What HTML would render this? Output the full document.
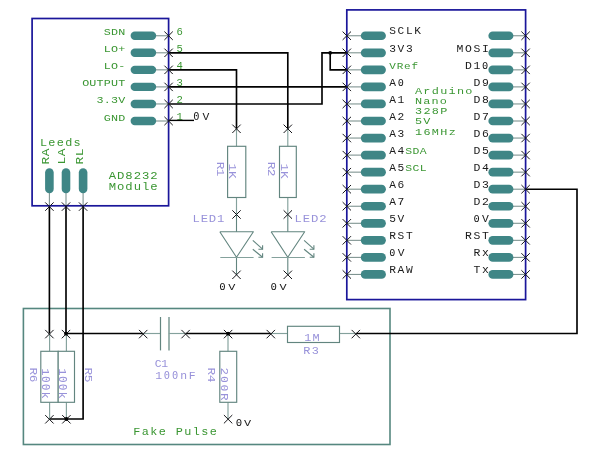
<!DOCTYPE html>
<html lang="en">
<head>
<meta charset="utf-8">
<title>AD8232 Module to Arduino Nano schematic</title>
<style>
html,body{margin:0;padding:0;background:#ffffff;}
body{width:600px;height:464px;overflow:hidden;}
svg{display:block;}
svg text{font-family:"Liberation Mono","DejaVu Sans Mono",monospace;font-weight:400;white-space:pre;}
svg text .z{font-family:"DejaVu Sans Mono","Liberation Mono",monospace;}
</style>
</head>
<body>
<svg width="600" height="464" viewBox="0 0 600 464">
<rect x="0" y="0" width="600" height="464" fill="#ffffff"/>
<g opacity="0.999">
<line x1="155.00" y1="35.75" x2="168.60" y2="35.75" stroke="#7f9491" stroke-width="1.1" stroke-linecap="butt"/>
<rect x="130.60" y="31.55" width="25.60" height="8.40" rx="4.20" fill="#3f8686"/>
<text transform="translate(103.84 35.25) scale(1.289 1)" font-size="9.10" letter-spacing="0.15" fill="#3a9632">SDN</text>
<text transform="translate(176.42 35.05) scale(0.999 1)" font-size="10.62" letter-spacing="0.00" fill="#3a9632">6</text>
<line x1="155.00" y1="52.80" x2="168.60" y2="52.80" stroke="#7f9491" stroke-width="1.1" stroke-linecap="butt"/>
<rect x="130.60" y="48.60" width="25.60" height="8.40" rx="4.20" fill="#3f8686"/>
<text transform="translate(103.84 52.30) scale(1.289 1)" font-size="9.10" letter-spacing="0.15" fill="#3a9632">LO+</text>
<text transform="translate(176.42 52.10) scale(0.999 1)" font-size="10.62" letter-spacing="0.00" fill="#3a9632">5</text>
<line x1="155.00" y1="69.85" x2="168.60" y2="69.85" stroke="#7f9491" stroke-width="1.1" stroke-linecap="butt"/>
<rect x="130.60" y="65.65" width="25.60" height="8.40" rx="4.20" fill="#3f8686"/>
<text transform="translate(103.84 69.35) scale(1.289 1)" font-size="9.10" letter-spacing="0.15" fill="#3a9632">LO-</text>
<text transform="translate(176.42 69.15) scale(0.999 1)" font-size="10.62" letter-spacing="0.00" fill="#3a9632">4</text>
<line x1="155.00" y1="86.90" x2="168.60" y2="86.90" stroke="#7f9491" stroke-width="1.1" stroke-linecap="butt"/>
<rect x="130.60" y="82.70" width="25.60" height="8.40" rx="4.20" fill="#3f8686"/>
<text transform="translate(82.15 86.40) scale(1.289 1)" font-size="9.10" letter-spacing="0.15" fill="#3a9632">OUTPUT</text>
<text transform="translate(176.42 86.20) scale(0.999 1)" font-size="10.62" letter-spacing="0.00" fill="#3a9632">3</text>
<line x1="155.00" y1="103.95" x2="168.60" y2="103.95" stroke="#7f9491" stroke-width="1.1" stroke-linecap="butt"/>
<rect x="130.60" y="99.75" width="25.60" height="8.40" rx="4.20" fill="#3f8686"/>
<text transform="translate(96.61 103.45) scale(1.289 1)" font-size="9.10" letter-spacing="0.15" fill="#3a9632">3.3V</text>
<text transform="translate(176.42 103.25) scale(0.999 1)" font-size="10.62" letter-spacing="0.00" fill="#3a9632">2</text>
<line x1="155.00" y1="121.00" x2="168.60" y2="121.00" stroke="#7f9491" stroke-width="1.1" stroke-linecap="butt"/>
<rect x="130.60" y="116.80" width="25.60" height="8.40" rx="4.20" fill="#3f8686"/>
<text transform="translate(103.84 120.50) scale(1.289 1)" font-size="9.10" letter-spacing="0.15" fill="#3a9632">GND</text>
<text transform="translate(176.42 120.30) scale(0.999 1)" font-size="10.62" letter-spacing="0.00" fill="#3a9632">1</text>
<line x1="49.40" y1="192.00" x2="49.40" y2="205.80" stroke="#7f9491" stroke-width="1.1" stroke-linecap="butt"/>
<rect x="45.10" y="168.20" width="8.60" height="25.00" rx="4.30" fill="#3f8686"/>
<text transform="translate(45.20 163.90) rotate(-90) translate(-0.71 3.60) scale(1.177 1)" font-size="10.93" letter-spacing="0.58" fill="#3a9632">RA</text>
<line x1="66.00" y1="192.00" x2="66.00" y2="205.80" stroke="#7f9491" stroke-width="1.1" stroke-linecap="butt"/>
<rect x="61.70" y="168.20" width="8.60" height="25.00" rx="4.30" fill="#3f8686"/>
<text transform="translate(61.80 163.90) rotate(-90) translate(-0.71 3.60) scale(1.177 1)" font-size="10.93" letter-spacing="0.58" fill="#3a9632">LA</text>
<line x1="83.10" y1="192.00" x2="83.10" y2="205.80" stroke="#7f9491" stroke-width="1.1" stroke-linecap="butt"/>
<rect x="78.80" y="168.20" width="8.60" height="25.00" rx="4.30" fill="#3f8686"/>
<text transform="translate(78.90 163.90) rotate(-90) translate(-0.71 3.60) scale(1.177 1)" font-size="10.93" letter-spacing="0.58" fill="#3a9632">RL</text>
<text transform="translate(39.95 145.80) scale(1.147 1)" font-size="10.32" letter-spacing="1.13" fill="#3a9632">Leeds</text>
<text transform="translate(108.63 179.10) scale(1.187 1)" font-size="10.32" letter-spacing="0.84" fill="#3a9632">AD8232</text>
<text transform="translate(108.63 189.60) scale(1.187 1)" font-size="10.32" letter-spacing="0.84" fill="#3a9632">Module</text>
<line x1="346.80" y1="35.75" x2="362.00" y2="35.75" stroke="#7f9491" stroke-width="1.1" stroke-linecap="butt"/>
<line x1="512.00" y1="35.75" x2="525.60" y2="35.75" stroke="#7f9491" stroke-width="1.1" stroke-linecap="butt"/>
<rect x="360.80" y="31.40" width="25.10" height="8.70" rx="4.35" fill="#3f8686"/>
<rect x="488.40" y="31.40" width="25.00" height="8.70" rx="4.35" fill="#3f8686"/>
<text transform="translate(389.28 34.45) scale(1.088 1)" font-size="10.32" letter-spacing="1.48" fill="#1a1a1a">SCLK</text>
<line x1="346.80" y1="52.80" x2="362.00" y2="52.80" stroke="#7f9491" stroke-width="1.1" stroke-linecap="butt"/>
<line x1="512.00" y1="52.80" x2="525.60" y2="52.80" stroke="#7f9491" stroke-width="1.1" stroke-linecap="butt"/>
<rect x="360.80" y="48.45" width="25.10" height="8.70" rx="4.35" fill="#3f8686"/>
<rect x="488.40" y="48.45" width="25.00" height="8.70" rx="4.35" fill="#3f8686"/>
<text transform="translate(389.28 51.50) scale(1.088 1)" font-size="10.32" letter-spacing="1.48" fill="#1a1a1a">3V3</text>
<text transform="translate(456.62 51.50) scale(1.108 1)" font-size="10.32" letter-spacing="1.44" fill="#1a1a1a">MOSI</text>
<line x1="346.80" y1="69.85" x2="362.00" y2="69.85" stroke="#7f9491" stroke-width="1.1" stroke-linecap="butt"/>
<line x1="512.00" y1="69.85" x2="525.60" y2="69.85" stroke="#7f9491" stroke-width="1.1" stroke-linecap="butt"/>
<rect x="360.80" y="65.50" width="25.10" height="8.70" rx="4.35" fill="#3f8686"/>
<rect x="488.40" y="65.50" width="25.00" height="8.70" rx="4.35" fill="#3f8686"/>
<text transform="translate(389.19 68.55) scale(1.117 1)" font-size="9.86" letter-spacing="0.76" fill="#3a9632">VRef</text>
<text transform="translate(465.07 68.55) scale(1.108 1)" font-size="10.32" letter-spacing="1.44" fill="#1a1a1a">D1<tspan class="z" font-size="9.33">0</tspan></text>
<line x1="346.80" y1="86.90" x2="362.00" y2="86.90" stroke="#7f9491" stroke-width="1.1" stroke-linecap="butt"/>
<line x1="512.00" y1="86.90" x2="525.60" y2="86.90" stroke="#7f9491" stroke-width="1.1" stroke-linecap="butt"/>
<rect x="360.80" y="82.55" width="25.10" height="8.70" rx="4.35" fill="#3f8686"/>
<rect x="488.40" y="82.55" width="25.00" height="8.70" rx="4.35" fill="#3f8686"/>
<text transform="translate(389.28 85.60) scale(1.088 1)" font-size="10.32" letter-spacing="1.48" fill="#1a1a1a">A<tspan class="z" font-size="9.33">0</tspan></text>
<text transform="translate(473.52 85.60) scale(1.108 1)" font-size="10.32" letter-spacing="1.44" fill="#1a1a1a">D9</text>
<line x1="346.80" y1="103.95" x2="362.00" y2="103.95" stroke="#7f9491" stroke-width="1.1" stroke-linecap="butt"/>
<line x1="512.00" y1="103.95" x2="525.60" y2="103.95" stroke="#7f9491" stroke-width="1.1" stroke-linecap="butt"/>
<rect x="360.80" y="99.60" width="25.10" height="8.70" rx="4.35" fill="#3f8686"/>
<rect x="488.40" y="99.60" width="25.00" height="8.70" rx="4.35" fill="#3f8686"/>
<text transform="translate(389.28 102.65) scale(1.088 1)" font-size="10.32" letter-spacing="1.48" fill="#1a1a1a">A1</text>
<text transform="translate(473.52 102.65) scale(1.108 1)" font-size="10.32" letter-spacing="1.44" fill="#1a1a1a">D8</text>
<line x1="346.80" y1="121.00" x2="362.00" y2="121.00" stroke="#7f9491" stroke-width="1.1" stroke-linecap="butt"/>
<line x1="512.00" y1="121.00" x2="525.60" y2="121.00" stroke="#7f9491" stroke-width="1.1" stroke-linecap="butt"/>
<rect x="360.80" y="116.65" width="25.10" height="8.70" rx="4.35" fill="#3f8686"/>
<rect x="488.40" y="116.65" width="25.00" height="8.70" rx="4.35" fill="#3f8686"/>
<text transform="translate(389.28 119.70) scale(1.088 1)" font-size="10.32" letter-spacing="1.48" fill="#1a1a1a">A2</text>
<text transform="translate(473.52 119.70) scale(1.108 1)" font-size="10.32" letter-spacing="1.44" fill="#1a1a1a">D7</text>
<line x1="346.80" y1="138.05" x2="362.00" y2="138.05" stroke="#7f9491" stroke-width="1.1" stroke-linecap="butt"/>
<line x1="512.00" y1="138.05" x2="525.60" y2="138.05" stroke="#7f9491" stroke-width="1.1" stroke-linecap="butt"/>
<rect x="360.80" y="133.70" width="25.10" height="8.70" rx="4.35" fill="#3f8686"/>
<rect x="488.40" y="133.70" width="25.00" height="8.70" rx="4.35" fill="#3f8686"/>
<text transform="translate(389.28 136.75) scale(1.088 1)" font-size="10.32" letter-spacing="1.48" fill="#1a1a1a">A3</text>
<text transform="translate(473.52 136.75) scale(1.108 1)" font-size="10.32" letter-spacing="1.44" fill="#1a1a1a">D6</text>
<line x1="346.80" y1="155.10" x2="362.00" y2="155.10" stroke="#7f9491" stroke-width="1.1" stroke-linecap="butt"/>
<line x1="512.00" y1="155.10" x2="525.60" y2="155.10" stroke="#7f9491" stroke-width="1.1" stroke-linecap="butt"/>
<rect x="360.80" y="150.75" width="25.10" height="8.70" rx="4.35" fill="#3f8686"/>
<rect x="488.40" y="150.75" width="25.00" height="8.70" rx="4.35" fill="#3f8686"/>
<text transform="translate(389.28 153.80) scale(1.088 1)" font-size="10.32" letter-spacing="1.48" fill="#1a1a1a">A4</text>
<text transform="translate(473.52 153.80) scale(1.108 1)" font-size="10.32" letter-spacing="1.44" fill="#1a1a1a">D5</text>
<line x1="346.80" y1="172.15" x2="362.00" y2="172.15" stroke="#7f9491" stroke-width="1.1" stroke-linecap="butt"/>
<line x1="512.00" y1="172.15" x2="525.60" y2="172.15" stroke="#7f9491" stroke-width="1.1" stroke-linecap="butt"/>
<rect x="360.80" y="167.80" width="25.10" height="8.70" rx="4.35" fill="#3f8686"/>
<rect x="488.40" y="167.80" width="25.00" height="8.70" rx="4.35" fill="#3f8686"/>
<text transform="translate(389.28 170.85) scale(1.088 1)" font-size="10.32" letter-spacing="1.48" fill="#1a1a1a">A5</text>
<text transform="translate(473.52 170.85) scale(1.108 1)" font-size="10.32" letter-spacing="1.44" fill="#1a1a1a">D4</text>
<line x1="346.80" y1="189.20" x2="362.00" y2="189.20" stroke="#7f9491" stroke-width="1.1" stroke-linecap="butt"/>
<line x1="512.00" y1="189.20" x2="525.60" y2="189.20" stroke="#7f9491" stroke-width="1.1" stroke-linecap="butt"/>
<rect x="360.80" y="184.85" width="25.10" height="8.70" rx="4.35" fill="#3f8686"/>
<rect x="488.40" y="184.85" width="25.00" height="8.70" rx="4.35" fill="#3f8686"/>
<text transform="translate(389.28 187.90) scale(1.088 1)" font-size="10.32" letter-spacing="1.48" fill="#1a1a1a">A6</text>
<text transform="translate(473.52 187.90) scale(1.108 1)" font-size="10.32" letter-spacing="1.44" fill="#1a1a1a">D3</text>
<line x1="346.80" y1="206.25" x2="362.00" y2="206.25" stroke="#7f9491" stroke-width="1.1" stroke-linecap="butt"/>
<line x1="512.00" y1="206.25" x2="525.60" y2="206.25" stroke="#7f9491" stroke-width="1.1" stroke-linecap="butt"/>
<rect x="360.80" y="201.90" width="25.10" height="8.70" rx="4.35" fill="#3f8686"/>
<rect x="488.40" y="201.90" width="25.00" height="8.70" rx="4.35" fill="#3f8686"/>
<text transform="translate(389.28 204.95) scale(1.088 1)" font-size="10.32" letter-spacing="1.48" fill="#1a1a1a">A7</text>
<text transform="translate(473.52 204.95) scale(1.108 1)" font-size="10.32" letter-spacing="1.44" fill="#1a1a1a">D2</text>
<line x1="346.80" y1="223.30" x2="362.00" y2="223.30" stroke="#7f9491" stroke-width="1.1" stroke-linecap="butt"/>
<line x1="512.00" y1="223.30" x2="525.60" y2="223.30" stroke="#7f9491" stroke-width="1.1" stroke-linecap="butt"/>
<rect x="360.80" y="218.95" width="25.10" height="8.70" rx="4.35" fill="#3f8686"/>
<rect x="488.40" y="218.95" width="25.00" height="8.70" rx="4.35" fill="#3f8686"/>
<text transform="translate(389.28 222.00) scale(1.088 1)" font-size="10.32" letter-spacing="1.48" fill="#1a1a1a">5V</text>
<text transform="translate(473.52 222.00) scale(1.108 1)" font-size="10.32" letter-spacing="1.44" fill="#1a1a1a"><tspan class="z" font-size="9.33">0</tspan><tspan dx="0.58">V</tspan></text>
<line x1="346.80" y1="240.35" x2="362.00" y2="240.35" stroke="#7f9491" stroke-width="1.1" stroke-linecap="butt"/>
<line x1="512.00" y1="240.35" x2="525.60" y2="240.35" stroke="#7f9491" stroke-width="1.1" stroke-linecap="butt"/>
<rect x="360.80" y="236.00" width="25.10" height="8.70" rx="4.35" fill="#3f8686"/>
<rect x="488.40" y="236.00" width="25.00" height="8.70" rx="4.35" fill="#3f8686"/>
<text transform="translate(389.28 239.05) scale(1.088 1)" font-size="10.32" letter-spacing="1.48" fill="#1a1a1a">RST</text>
<text transform="translate(465.07 239.05) scale(1.108 1)" font-size="10.32" letter-spacing="1.44" fill="#1a1a1a">RST</text>
<line x1="346.80" y1="257.40" x2="362.00" y2="257.40" stroke="#7f9491" stroke-width="1.1" stroke-linecap="butt"/>
<line x1="512.00" y1="257.40" x2="525.60" y2="257.40" stroke="#7f9491" stroke-width="1.1" stroke-linecap="butt"/>
<rect x="360.80" y="253.05" width="25.10" height="8.70" rx="4.35" fill="#3f8686"/>
<rect x="488.40" y="253.05" width="25.00" height="8.70" rx="4.35" fill="#3f8686"/>
<text transform="translate(389.28 256.10) scale(1.088 1)" font-size="10.32" letter-spacing="1.48" fill="#1a1a1a"><tspan class="z" font-size="9.33">0</tspan><tspan dx="0.58">V</tspan></text>
<text transform="translate(473.52 256.10) scale(1.108 1)" font-size="10.32" letter-spacing="1.44" fill="#1a1a1a">Rx</text>
<line x1="346.80" y1="274.45" x2="362.00" y2="274.45" stroke="#7f9491" stroke-width="1.1" stroke-linecap="butt"/>
<line x1="512.00" y1="274.45" x2="525.60" y2="274.45" stroke="#7f9491" stroke-width="1.1" stroke-linecap="butt"/>
<rect x="360.80" y="270.10" width="25.10" height="8.70" rx="4.35" fill="#3f8686"/>
<rect x="488.40" y="270.10" width="25.00" height="8.70" rx="4.35" fill="#3f8686"/>
<text transform="translate(389.28 273.15) scale(1.088 1)" font-size="10.32" letter-spacing="1.48" fill="#1a1a1a">RAW</text>
<text transform="translate(473.52 273.15) scale(1.108 1)" font-size="10.32" letter-spacing="1.44" fill="#1a1a1a">Tx</text>
<text transform="translate(405.37 154.10) scale(1.321 1)" font-size="8.65" letter-spacing="0.26" fill="#3a9632">SDA</text>
<text transform="translate(405.37 171.15) scale(1.321 1)" font-size="8.65" letter-spacing="0.26" fill="#3a9632">SCL</text>
<text transform="translate(414.95 94.00) scale(1.300 1)" font-size="9.10" letter-spacing="1.00" fill="#3a9632">Arduino</text>
<text transform="translate(414.95 104.15) scale(1.300 1)" font-size="9.10" letter-spacing="0.90" fill="#3a9632">Nano</text>
<text transform="translate(414.95 114.30) scale(1.300 1)" font-size="9.10" letter-spacing="1.05" fill="#3a9632">328P</text>
<text transform="translate(414.95 124.45) scale(1.300 1)" font-size="9.10" letter-spacing="0.84" fill="#3a9632">5V</text>
<text transform="translate(414.95 134.60) scale(1.300 1)" font-size="9.10" letter-spacing="1.04" fill="#3a9632">16MHz</text>
<rect x="23.40" y="308.50" width="366.60" height="136.00" fill="none" stroke="#55877f" stroke-width="1.6"/>
<polyline points="168.60,52.80 287.80,52.80 287.80,128.80" fill="none" stroke="#000000" stroke-width="1.65" stroke-linejoin="miter"/>
<polyline points="168.60,69.85 236.50,69.85 236.50,128.80" fill="none" stroke="#000000" stroke-width="1.65" stroke-linejoin="miter"/>
<polyline points="168.60,86.90 346.80,86.90" fill="none" stroke="#000000" stroke-width="1.65" stroke-linejoin="miter"/>
<polyline points="168.60,103.95 322.00,103.95 322.00,52.80 346.80,52.80" fill="none" stroke="#000000" stroke-width="1.65" stroke-linejoin="miter"/>
<polyline points="330.20,52.80 330.20,69.85 346.80,69.85" fill="none" stroke="#000000" stroke-width="1.65" stroke-linejoin="miter"/>
<circle cx="330.20" cy="52.80" r="1.9" fill="#000000"/>
<line x1="168.60" y1="120.40" x2="194.00" y2="120.40" stroke="#000000" stroke-width="1.4" stroke-linecap="butt"/>
<text transform="translate(193.17 120.00) scale(1.076 1)" font-size="10.62" letter-spacing="2.18" fill="#1a1a1a"><tspan class="z" font-size="9.60">0</tspan><tspan dx="0.59">V</tspan></text>
<polyline points="49.40,205.80 49.40,333.50" fill="none" stroke="#000000" stroke-width="1.65" stroke-linejoin="miter"/>
<polyline points="66.00,205.80 66.00,333.50 143.20,333.50" fill="none" stroke="#000000" stroke-width="1.65" stroke-linejoin="miter"/>
<polyline points="83.10,205.80 83.10,419.00 49.40,419.00" fill="none" stroke="#000000" stroke-width="1.65" stroke-linejoin="miter"/>
<line x1="185.60" y1="333.50" x2="270.80" y2="333.50" stroke="#000000" stroke-width="1.65" stroke-linecap="butt"/>
<polyline points="355.80,333.50 577.00,333.50 577.00,189.20 525.60,189.20" fill="none" stroke="#000000" stroke-width="1.65" stroke-linejoin="miter"/>
<text transform="translate(133.15 435.40) scale(1.114 1)" font-size="10.62" letter-spacing="1.26" fill="#3a9632">Fake Pulse</text>
<line x1="236.50" y1="128.80" x2="236.50" y2="146.30" stroke="#84a19c" stroke-width="1.15" stroke-linecap="butt"/>
<line x1="236.50" y1="197.50" x2="236.50" y2="214.50" stroke="#84a19c" stroke-width="1.15" stroke-linecap="butt"/>
<rect x="227.60" y="146.30" width="18.20" height="51.20" fill="#ffffff" stroke="#62857f" stroke-width="1.15"/>
<line x1="287.80" y1="128.80" x2="287.80" y2="146.30" stroke="#84a19c" stroke-width="1.15" stroke-linecap="butt"/>
<line x1="287.80" y1="197.50" x2="287.80" y2="214.50" stroke="#84a19c" stroke-width="1.15" stroke-linecap="butt"/>
<rect x="279.50" y="146.30" width="16.80" height="51.20" fill="#ffffff" stroke="#62857f" stroke-width="1.15"/>
<text transform="translate(233.00 164.20) rotate(90) translate(-0.71 3.60) scale(1.177 1)" font-size="10.93" letter-spacing="-0.18" fill="#9892da">1K</text>
<text transform="translate(220.20 162.50) rotate(90) translate(-0.71 3.40) scale(1.246 1)" font-size="10.32" letter-spacing="-0.57" fill="#9892da">R1</text>
<text transform="translate(284.30 164.20) rotate(90) translate(-0.71 3.60) scale(1.177 1)" font-size="10.93" letter-spacing="-0.18" fill="#9892da">1K</text>
<text transform="translate(271.50 162.50) rotate(90) translate(-0.71 3.40) scale(1.246 1)" font-size="10.32" letter-spacing="-0.57" fill="#9892da">R2</text>
<line x1="49.60" y1="333.50" x2="49.60" y2="351.30" stroke="#84a19c" stroke-width="1.15" stroke-linecap="butt"/>
<line x1="49.60" y1="402.30" x2="49.60" y2="419.00" stroke="#84a19c" stroke-width="1.15" stroke-linecap="butt"/>
<rect x="40.80" y="351.30" width="17.40" height="51.00" fill="#ffffff" stroke="#62857f" stroke-width="1.15"/>
<line x1="66.40" y1="333.50" x2="66.40" y2="351.30" stroke="#84a19c" stroke-width="1.15" stroke-linecap="butt"/>
<line x1="66.40" y1="402.30" x2="66.40" y2="419.00" stroke="#84a19c" stroke-width="1.15" stroke-linecap="butt"/>
<rect x="58.20" y="351.30" width="16.30" height="51.00" fill="#ffffff" stroke="#62857f" stroke-width="1.15"/>
<text transform="translate(45.30 368.80) rotate(90) translate(-0.67 3.50) scale(1.153 1)" font-size="10.62" letter-spacing="0.39" fill="#9892da">1<tspan class="z" font-size="9.60">0</tspan><tspan class="z" font-size="9.60" dx="0.59">0</tspan><tspan dx="0.59">k</tspan></text>
<text transform="translate(62.10 368.80) rotate(90) translate(-0.67 3.50) scale(1.153 1)" font-size="10.62" letter-spacing="0.39" fill="#9892da">1<tspan class="z" font-size="9.60">0</tspan><tspan class="z" font-size="9.60" dx="0.59">0</tspan><tspan dx="0.59">k</tspan></text>
<text transform="translate(33.00 368.10) rotate(90) translate(-0.71 3.50) scale(1.210 1)" font-size="10.62" letter-spacing="-0.18" fill="#9892da">R6</text>
<text transform="translate(88.40 368.10) rotate(90) translate(-0.71 3.50) scale(1.210 1)" font-size="10.62" letter-spacing="-0.18" fill="#9892da">R5</text>
<line x1="228.00" y1="333.50" x2="228.00" y2="351.30" stroke="#84a19c" stroke-width="1.15" stroke-linecap="butt"/>
<line x1="228.00" y1="402.30" x2="228.00" y2="419.20" stroke="#84a19c" stroke-width="1.15" stroke-linecap="butt"/>
<rect x="219.80" y="351.30" width="16.90" height="51.00" fill="#ffffff" stroke="#62857f" stroke-width="1.15"/>
<text transform="translate(224.60 368.10) rotate(90) translate(-0.70 3.50) scale(1.191 1)" font-size="10.62" letter-spacing="0.82" fill="#9892da">2<tspan class="z" font-size="9.60">0</tspan><tspan class="z" font-size="9.60" dx="0.59">0</tspan><tspan dx="0.59">R</tspan></text>
<text transform="translate(211.60 368.10) rotate(90) translate(-0.71 3.50) scale(1.210 1)" font-size="10.62" letter-spacing="-0.18" fill="#9892da">R4</text>
<text transform="translate(235.75 426.30) scale(1.219 1)" font-size="9.71" letter-spacing="0.90" fill="#1a1a1a"><tspan class="z" font-size="8.78">0</tspan><tspan dx="0.54">V</tspan></text>
<line x1="270.80" y1="333.50" x2="287.50" y2="333.50" stroke="#84a19c" stroke-width="1.15" stroke-linecap="butt"/>
<line x1="339.50" y1="333.50" x2="355.80" y2="333.50" stroke="#84a19c" stroke-width="1.15" stroke-linecap="butt"/>
<rect x="287.50" y="326.30" width="52.00" height="16.20" fill="#ffffff" stroke="#62857f" stroke-width="1.15"/>
<text transform="translate(304.15 341.30) scale(1.083 1)" font-size="10.93" letter-spacing="1.20" fill="#9892da">1M</text>
<text transform="translate(303.35 354.30) scale(1.114 1)" font-size="10.62" letter-spacing="1.25" fill="#9892da">R3</text>
<line x1="143.20" y1="333.50" x2="160.50" y2="333.50" stroke="#84a19c" stroke-width="1.15" stroke-linecap="butt"/>
<line x1="168.80" y1="333.50" x2="185.60" y2="333.50" stroke="#84a19c" stroke-width="1.15" stroke-linecap="butt"/>
<line x1="160.50" y1="317.00" x2="160.50" y2="350.40" stroke="#62857f" stroke-width="1.2" stroke-linecap="butt"/>
<line x1="169.00" y1="317.00" x2="169.00" y2="350.40" stroke="#84a19c" stroke-width="1.6" stroke-linecap="butt"/>
<text transform="translate(154.67 367.00) scale(1.108 1)" font-size="10.32" letter-spacing="-0.14" fill="#9892da">C1</text>
<text transform="translate(155.27 379.40) scale(1.076 1)" font-size="10.62" letter-spacing="1.41" fill="#9892da">1<tspan class="z" font-size="9.60">0</tspan><tspan class="z" font-size="9.60" dx="0.59">0</tspan><tspan dx="0.59">n</tspan>F</text>
<line x1="236.50" y1="214.50" x2="236.50" y2="231.80" stroke="#62857f" stroke-width="1.1" stroke-linecap="butt"/>
<line x1="236.50" y1="257.30" x2="236.50" y2="274.80" stroke="#62857f" stroke-width="1.1" stroke-linecap="butt"/>
<polyline points="219.80,231.80 253.40,231.80 236.50,257.30 219.80,231.80" fill="none" stroke="#62857f" stroke-width="1.1" stroke-linejoin="round"/>
<line x1="220.30" y1="257.50" x2="253.60" y2="257.50" stroke="#84a19c" stroke-width="1.2" stroke-linecap="butt"/>
<line x1="252.80" y1="240.30" x2="262.60" y2="249.20" stroke="#62857f" stroke-width="1.1" stroke-linecap="butt"/>
<path d="M258.40 249.20L262.60 249.20L262.60 245.20" stroke="#62857f" stroke-width="1.1" fill="none"/>
<line x1="252.80" y1="249.20" x2="262.60" y2="257.20" stroke="#62857f" stroke-width="1.1" stroke-linecap="butt"/>
<path d="M258.40 257.20L262.60 257.20L262.60 253.20" stroke="#62857f" stroke-width="1.1" fill="none"/>
<text transform="translate(192.53 222.00) scale(1.121 1)" font-size="10.93" letter-spacing="0.70" fill="#9892da">LED1</text>
<text transform="translate(219.15 290.00) scale(1.219 1)" font-size="9.71" letter-spacing="1.64" fill="#1a1a1a"><tspan class="z" font-size="8.78">0</tspan><tspan dx="0.54">V</tspan></text>
<line x1="287.80" y1="214.50" x2="287.80" y2="231.80" stroke="#62857f" stroke-width="1.1" stroke-linecap="butt"/>
<line x1="287.80" y1="257.30" x2="287.80" y2="274.80" stroke="#62857f" stroke-width="1.1" stroke-linecap="butt"/>
<polyline points="271.10,231.80 304.70,231.80 287.80,257.30 271.10,231.80" fill="none" stroke="#62857f" stroke-width="1.1" stroke-linejoin="round"/>
<line x1="271.60" y1="257.50" x2="304.90" y2="257.50" stroke="#84a19c" stroke-width="1.2" stroke-linecap="butt"/>
<line x1="304.10" y1="240.30" x2="313.90" y2="249.20" stroke="#62857f" stroke-width="1.1" stroke-linecap="butt"/>
<path d="M309.70 249.20L313.90 249.20L313.90 245.20" stroke="#62857f" stroke-width="1.1" fill="none"/>
<line x1="304.10" y1="249.20" x2="313.90" y2="257.20" stroke="#62857f" stroke-width="1.1" stroke-linecap="butt"/>
<path d="M309.70 257.20L313.90 257.20L313.90 253.20" stroke="#62857f" stroke-width="1.1" fill="none"/>
<text transform="translate(294.53 222.00) scale(1.121 1)" font-size="10.93" letter-spacing="0.82" fill="#9892da">LED2</text>
<text transform="translate(270.45 290.00) scale(1.219 1)" font-size="9.71" letter-spacing="1.64" fill="#1a1a1a"><tspan class="z" font-size="8.78">0</tspan><tspan dx="0.54">V</tspan></text>
<rect x="32.10" y="18.50" width="136.50" height="187.30" fill="none" stroke="#1a169a" stroke-width="1.7"/>
<rect x="346.80" y="9.90" width="178.80" height="289.70" fill="none" stroke="#1a169a" stroke-width="1.7"/>
<path d="M164.40 31.55L172.80 39.95M164.40 39.95L172.80 31.55" stroke="#141418" stroke-width="1.0" fill="none"/>
<path d="M164.40 48.60L172.80 57.00M164.40 57.00L172.80 48.60" stroke="#141418" stroke-width="1.0" fill="none"/>
<path d="M164.40 65.65L172.80 74.05M164.40 74.05L172.80 65.65" stroke="#141418" stroke-width="1.0" fill="none"/>
<path d="M164.40 82.70L172.80 91.10M164.40 91.10L172.80 82.70" stroke="#141418" stroke-width="1.0" fill="none"/>
<path d="M164.40 99.75L172.80 108.15M164.40 108.15L172.80 99.75" stroke="#141418" stroke-width="1.0" fill="none"/>
<path d="M164.40 116.80L172.80 125.20M164.40 125.20L172.80 116.80" stroke="#141418" stroke-width="1.0" fill="none"/>
<path d="M45.20 202.40L53.60 210.80M45.20 210.80L53.60 202.40" stroke="#141418" stroke-width="1.0" fill="none"/>
<path d="M61.80 202.40L70.20 210.80M61.80 210.80L70.20 202.40" stroke="#141418" stroke-width="1.0" fill="none"/>
<path d="M78.90 202.40L87.30 210.80M78.90 210.80L87.30 202.40" stroke="#141418" stroke-width="1.0" fill="none"/>
<path d="M342.60 31.55L351.00 39.95M342.60 39.95L351.00 31.55" stroke="#141418" stroke-width="1.0" fill="none"/>
<path d="M521.40 31.55L529.80 39.95M521.40 39.95L529.80 31.55" stroke="#141418" stroke-width="1.0" fill="none"/>
<path d="M342.60 48.60L351.00 57.00M342.60 57.00L351.00 48.60" stroke="#141418" stroke-width="1.0" fill="none"/>
<path d="M521.40 48.60L529.80 57.00M521.40 57.00L529.80 48.60" stroke="#141418" stroke-width="1.0" fill="none"/>
<path d="M342.60 65.65L351.00 74.05M342.60 74.05L351.00 65.65" stroke="#141418" stroke-width="1.0" fill="none"/>
<path d="M521.40 65.65L529.80 74.05M521.40 74.05L529.80 65.65" stroke="#141418" stroke-width="1.0" fill="none"/>
<path d="M342.60 82.70L351.00 91.10M342.60 91.10L351.00 82.70" stroke="#141418" stroke-width="1.0" fill="none"/>
<path d="M521.40 82.70L529.80 91.10M521.40 91.10L529.80 82.70" stroke="#141418" stroke-width="1.0" fill="none"/>
<path d="M342.60 99.75L351.00 108.15M342.60 108.15L351.00 99.75" stroke="#141418" stroke-width="1.0" fill="none"/>
<path d="M521.40 99.75L529.80 108.15M521.40 108.15L529.80 99.75" stroke="#141418" stroke-width="1.0" fill="none"/>
<path d="M342.60 116.80L351.00 125.20M342.60 125.20L351.00 116.80" stroke="#141418" stroke-width="1.0" fill="none"/>
<path d="M521.40 116.80L529.80 125.20M521.40 125.20L529.80 116.80" stroke="#141418" stroke-width="1.0" fill="none"/>
<path d="M342.60 133.85L351.00 142.25M342.60 142.25L351.00 133.85" stroke="#141418" stroke-width="1.0" fill="none"/>
<path d="M521.40 133.85L529.80 142.25M521.40 142.25L529.80 133.85" stroke="#141418" stroke-width="1.0" fill="none"/>
<path d="M342.60 150.90L351.00 159.30M342.60 159.30L351.00 150.90" stroke="#141418" stroke-width="1.0" fill="none"/>
<path d="M521.40 150.90L529.80 159.30M521.40 159.30L529.80 150.90" stroke="#141418" stroke-width="1.0" fill="none"/>
<path d="M342.60 167.95L351.00 176.35M342.60 176.35L351.00 167.95" stroke="#141418" stroke-width="1.0" fill="none"/>
<path d="M521.40 167.95L529.80 176.35M521.40 176.35L529.80 167.95" stroke="#141418" stroke-width="1.0" fill="none"/>
<path d="M342.60 185.00L351.00 193.40M342.60 193.40L351.00 185.00" stroke="#141418" stroke-width="1.0" fill="none"/>
<path d="M521.40 185.00L529.80 193.40M521.40 193.40L529.80 185.00" stroke="#141418" stroke-width="1.0" fill="none"/>
<path d="M342.60 202.05L351.00 210.45M342.60 210.45L351.00 202.05" stroke="#141418" stroke-width="1.0" fill="none"/>
<path d="M521.40 202.05L529.80 210.45M521.40 210.45L529.80 202.05" stroke="#141418" stroke-width="1.0" fill="none"/>
<path d="M342.60 219.10L351.00 227.50M342.60 227.50L351.00 219.10" stroke="#141418" stroke-width="1.0" fill="none"/>
<path d="M521.40 219.10L529.80 227.50M521.40 227.50L529.80 219.10" stroke="#141418" stroke-width="1.0" fill="none"/>
<path d="M342.60 236.15L351.00 244.55M342.60 244.55L351.00 236.15" stroke="#141418" stroke-width="1.0" fill="none"/>
<path d="M521.40 236.15L529.80 244.55M521.40 244.55L529.80 236.15" stroke="#141418" stroke-width="1.0" fill="none"/>
<path d="M342.60 253.20L351.00 261.60M342.60 261.60L351.00 253.20" stroke="#141418" stroke-width="1.0" fill="none"/>
<path d="M521.40 253.20L529.80 261.60M521.40 261.60L529.80 253.20" stroke="#141418" stroke-width="1.0" fill="none"/>
<path d="M342.60 270.25L351.00 278.65M342.60 278.65L351.00 270.25" stroke="#141418" stroke-width="1.0" fill="none"/>
<path d="M521.40 270.25L529.80 278.65M521.40 278.65L529.80 270.25" stroke="#141418" stroke-width="1.0" fill="none"/>
<path d="M232.30 124.60L240.70 133.00M232.30 133.00L240.70 124.60" stroke="#141418" stroke-width="1.0" fill="none"/>
<path d="M232.30 210.30L240.70 218.70M232.30 218.70L240.70 210.30" stroke="#141418" stroke-width="1.0" fill="none"/>
<path d="M232.30 270.60L240.70 279.00M232.30 279.00L240.70 270.60" stroke="#141418" stroke-width="1.0" fill="none"/>
<path d="M283.60 124.60L292.00 133.00M283.60 133.00L292.00 124.60" stroke="#141418" stroke-width="1.0" fill="none"/>
<path d="M283.60 210.30L292.00 218.70M283.60 218.70L292.00 210.30" stroke="#141418" stroke-width="1.0" fill="none"/>
<path d="M283.60 270.60L292.00 279.00M283.60 279.00L292.00 270.60" stroke="#141418" stroke-width="1.0" fill="none"/>
<path d="M45.20 329.90L53.60 338.30M45.20 338.30L53.60 329.90" stroke="#141418" stroke-width="1.0" fill="none"/>
<path d="M61.80 329.90L70.20 338.30M61.80 338.30L70.20 329.90" stroke="#141418" stroke-width="1.0" fill="none"/>
<path d="M45.20 415.10L53.60 423.50M45.20 423.50L53.60 415.10" stroke="#141418" stroke-width="1.0" fill="none"/>
<path d="M62.20 415.10L70.60 423.50M62.20 423.50L70.60 415.10" stroke="#141418" stroke-width="1.0" fill="none"/>
<path d="M139.00 329.90L147.40 338.30M139.00 338.30L147.40 329.90" stroke="#141418" stroke-width="1.0" fill="none"/>
<path d="M181.40 329.90L189.80 338.30M181.40 338.30L189.80 329.90" stroke="#141418" stroke-width="1.0" fill="none"/>
<path d="M266.60 329.90L275.00 338.30M266.60 338.30L275.00 329.90" stroke="#141418" stroke-width="1.0" fill="none"/>
<path d="M351.60 329.90L360.00 338.30M351.60 338.30L360.00 329.90" stroke="#141418" stroke-width="1.0" fill="none"/>
<path d="M223.90 329.90L232.30 338.30M223.90 338.30L232.30 329.90" stroke="#141418" stroke-width="1.0" fill="none"/>
<path d="M223.90 415.00L232.30 423.40M223.90 423.40L232.30 415.00" stroke="#141418" stroke-width="1.0" fill="none"/>
<circle cx="66.00" cy="333.70" r="1.9" fill="#000000"/>
<circle cx="66.40" cy="419.00" r="1.9" fill="#000000"/>
<circle cx="228.10" cy="333.70" r="1.9" fill="#000000"/>
</g>
</svg>
</body>
</html>
